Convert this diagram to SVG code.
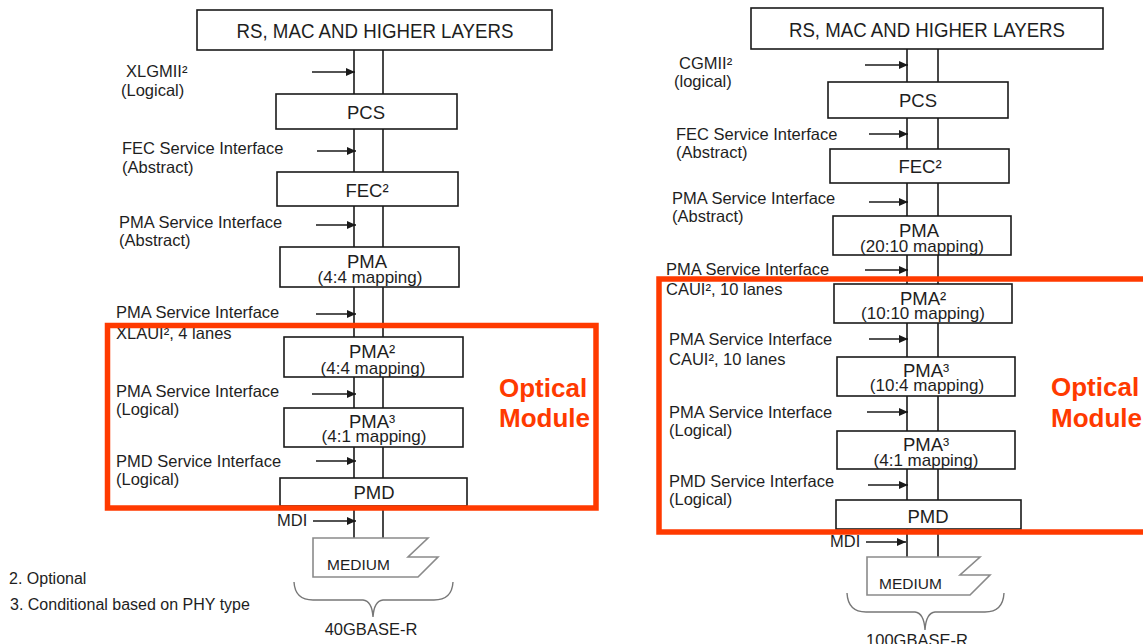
<svg xmlns="http://www.w3.org/2000/svg" width="1143" height="644" viewBox="0 0 1143 644">
<style>
text{font-family:"Liberation Sans",Arial,sans-serif;fill:#1e1e1e}
.box{fill:#fff;stroke:#1a1a1a;stroke-width:1.6}
.t{font-size:20px;text-anchor:middle}
.n{font-size:18.5px;text-anchor:middle}
.s{font-size:17px;text-anchor:middle}
.lb{font-size:16.5px}
.red{fill:none;stroke:#ff3a00;stroke-width:5.5}
.om{font-size:26px;font-weight:bold;fill:#ff3a00}
.v{stroke:#1a1a1a;stroke-width:1.6}
.ar{stroke:#1a1a1a;stroke-width:1.3;marker-end:url(#ah)}
.med{fill:#fff;stroke:#8a8a8a;stroke-width:1.6}
.br{fill:none;stroke:#777;stroke-width:1.4}
</style>
<defs>
<marker id="ah" markerWidth="9" markerHeight="8" refX="9" refY="4" orient="auto" markerUnits="userSpaceOnUse">
<path d="M0,0 L9,4 L0,8 Z" fill="#1a1a1a"/>
</marker>
</defs>
<rect width="1143" height="644" fill="#fff"/>

<g id="connectors">
<line class="v" x1="354" y1="50" x2="354" y2="538"/>
<line class="v" x1="383" y1="50" x2="383" y2="538"/>
<line class="v" x1="907" y1="49" x2="907" y2="557"/>
<line class="v" x1="938" y1="49" x2="938" y2="557"/>
<line class="ar" x1="312" y1="72" x2="355" y2="72"/>
<line class="ar" x1="317" y1="151" x2="356" y2="151"/>
<line class="ar" x1="316" y1="225" x2="356" y2="225"/>
<line class="ar" x1="316" y1="314" x2="356" y2="314"/>
<line class="ar" x1="312" y1="394" x2="356" y2="394"/>
<line class="ar" x1="316" y1="461" x2="356" y2="461"/>
<line class="ar" x1="313" y1="521" x2="356" y2="521"/>
<line class="ar" x1="865" y1="65" x2="908" y2="65"/>
<line class="ar" x1="869" y1="134" x2="908" y2="134"/>
<line class="ar" x1="869" y1="202" x2="908" y2="202"/>
<line class="ar" x1="865" y1="270" x2="908" y2="270"/>
<line class="ar" x1="869" y1="339" x2="908" y2="339"/>
<line class="ar" x1="867" y1="412" x2="908" y2="412"/>
<line class="ar" x1="868" y1="485" x2="908" y2="485"/>
<line class="ar" x1="866" y1="542" x2="906" y2="542"/>
</g>

<!-- Left stack: 40GBASE-R -->
<g id="l-top"><rect class="box" x="197" y="10" width="355" height="40"/><text class="t" x="375" y="38" textLength="277" lengthAdjust="spacingAndGlyphs">RS, MAC AND HIGHER LAYERS</text></g>
<g id="l-pcs"><rect class="box" x="276" y="94" width="181" height="35"/><text class="n" x="366" y="119">PCS</text></g>
<g id="l-fec"><rect class="box" x="277" y="172" width="181" height="34"/><text class="n" x="367" y="197">FEC²</text></g>
<g id="l-pma"><rect class="box" x="280" y="247" width="179" height="40"/><text class="n" x="367" y="268">PMA</text><text class="s" x="370" y="283">(4:4 mapping)</text></g>
<g id="l-pma2"><rect class="box" x="284" y="337" width="179" height="40"/><text class="n" x="372" y="358">PMA²</text><text class="s" x="373" y="374">(4:4 mapping)</text></g>
<g id="l-pma3"><rect class="box" x="284" y="408" width="179" height="39"/><text class="n" x="372" y="428">PMA³</text><text class="s" x="374" y="442">(4:1 mapping)</text></g>
<g id="l-pmd"><rect class="box" x="280" y="478" width="187" height="28"/><text class="n" x="374" y="499">PMD</text></g>
<g id="l-medium"><path class="med" d="M313,538 L428,538 L408,557 L438,557 L418,577 L313,577 Z"/><text class="lb" x="327" y="570" style="font-size:15.5px">MEDIUM</text></g>
<g id="l-labels">
<text class="lb" x="126" y="77">XLGMII²</text>
<text class="lb" x="121" y="96">(Logical)</text>
<text class="lb" x="122" y="154">FEC Service Interface</text>
<text class="lb" x="122" y="173">(Abstract)</text>
<text class="lb" x="119" y="228">PMA Service Interface</text>
<text class="lb" x="119" y="246">(Abstract)</text>
<text class="lb" x="116" y="318">PMA Service Interface</text>
<text class="lb" x="116" y="339">XLAUI², 4 lanes</text>
<text class="lb" x="116" y="397">PMA Service Interface</text>
<text class="lb" x="116" y="415">(Logical)</text>
<text class="lb" x="116" y="467">PMD Service Interface</text>
<text class="lb" x="116" y="485">(Logical)</text>
<text class="lb" x="277" y="526">MDI</text>
</g>
<g id="l-brace"><path class="br" d="M294,582 Q295,600 313,600 L363,600 Q372,601 373,617 Q374,601 383,600 L434,600 Q452,600 453,582"/><text class="lb" x="371" y="635" text-anchor="middle">40GBASE-R</text></g>
<g id="l-optical"><rect class="red" x="107.5" y="325.5" width="488.5" height="182.5"/><text class="om" x="499" y="397">Optical</text><text class="om" x="499" y="427">Module</text></g>

<!-- Right stack: 100GBASE-R -->
<g id="r-top"><rect class="box" x="751" y="8" width="352" height="41"/><text class="t" x="927" y="37" textLength="276" lengthAdjust="spacingAndGlyphs">RS, MAC AND HIGHER LAYERS</text></g>
<g id="r-pcs"><rect class="box" x="828" y="82" width="180" height="36"/><text class="n" x="918" y="107">PCS</text></g>
<g id="r-fec"><rect class="box" x="830" y="149" width="179" height="34"/><text class="n" x="920" y="173">FEC²</text></g>
<g id="r-pma"><rect class="box" x="833" y="216" width="178" height="39"/><text class="n" x="919" y="237">PMA</text><text class="s" x="922" y="252">(20:10 mapping)</text></g>
<g id="r-pma2"><rect class="box" x="834" y="284" width="178" height="39"/><text class="n" x="923" y="305">PMA²</text><text class="s" x="923" y="319">(10:10 mapping)</text></g>
<g id="r-pma3a"><rect class="box" x="837" y="357" width="178" height="39"/><text class="n" x="926" y="377">PMA³</text><text class="s" x="927" y="391">(10:4 mapping)</text></g>
<g id="r-pma3b"><rect class="box" x="837" y="431" width="178" height="38"/><text class="n" x="926" y="451">PMA³</text><text class="s" x="926" y="466">(4:1 mapping)</text></g>
<g id="r-pmd"><rect class="box" x="836" y="500" width="185" height="29"/><text class="n" x="928" y="523">PMD</text></g>
<g id="r-medium"><path class="med" d="M867,557 L980,557 L960,575 L990,575 L970,595 L867,595 Z"/><text class="lb" x="879" y="589" style="font-size:15.5px">MEDIUM</text></g>
<g id="r-labels">
<text class="lb" x="679" y="69">CGMII²</text>
<text class="lb" x="674" y="87">(logical)</text>
<text class="lb" x="676" y="140">FEC Service Interface</text>
<text class="lb" x="676" y="158">(Abstract)</text>
<text class="lb" x="672" y="204">PMA Service Interface</text>
<text class="lb" x="672" y="222">(Abstract)</text>
<text class="lb" x="666" y="275">PMA Service Interface</text>
<text class="lb" x="666" y="295">CAUI², 10 lanes</text>
<text class="lb" x="669" y="345">PMA Service Interface</text>
<text class="lb" x="669" y="365">CAUI², 10 lanes</text>
<text class="lb" x="669" y="418">PMA Service Interface</text>
<text class="lb" x="669" y="436">(Logical)</text>
<text class="lb" x="669" y="487">PMD Service Interface</text>
<text class="lb" x="669" y="505">(Logical)</text>
<text class="lb" x="830" y="547">MDI</text>
</g>
<g id="r-brace"><path class="br" d="M847,593 Q848,612 866,612 L915,612 Q924,613 925,630 Q926,613 935,612 L985,612 Q1003,612 1004,593"/><text class="lb" x="917" y="646" text-anchor="middle">100GBASE-R</text></g>
<g id="r-optical"><rect class="red" x="659" y="279" width="500" height="253"/><text class="om" x="1051" y="396">Optical</text><text class="om" x="1051" y="427">Module</text></g>

<g id="footnotes">
<text class="lb" x="9" y="584" style="font-size:16px">2. Optional</text>
<text class="lb" x="10" y="610" style="font-size:16px">3. Conditional based on PHY type</text>
</g>
</svg>
